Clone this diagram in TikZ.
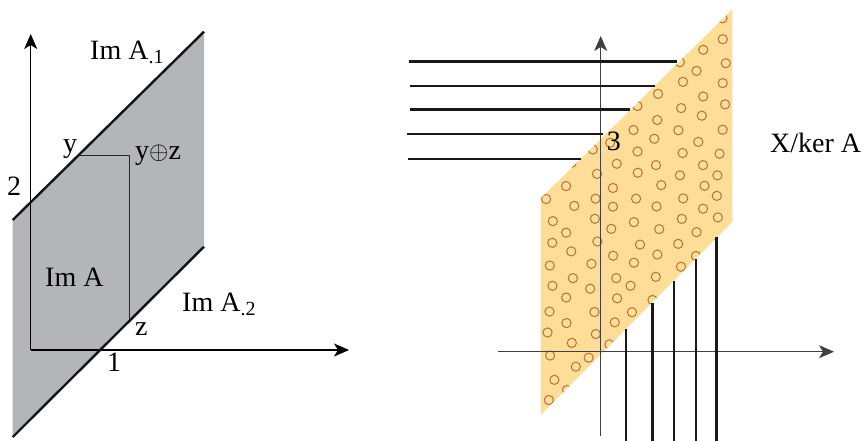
\documentclass[tikz,border=0pt]{standalone}
\usepackage{fontspec}
\setmainfont{Liberation Serif}
\usetikzlibrary{arrows.meta}
\definecolor{panelgray}{RGB}{179,181,185}
\definecolor{kerfill}{RGB}{254,221,152}
\definecolor{dotcol}{RGB}{182,115,58}
\newcommand{\subsm}[1]{\raisebox{-4pt}{\fontsize{20}{20}\selectfont #1}}
\begin{document}
\begin{tikzpicture}[x=1pt,y=-1pt,
  lbl/.style={anchor=base west, inner sep=0pt, font=\rmfamily\fontsize{28}{28}\selectfont},
  thickline/.style={line width=2.4pt, black!92},
  thickline2/.style={line width=2.8pt, black!90},
  axisone/.style={line width=1.1pt, black, -{Stealth[length=15pt,width=13pt,inset=4pt]}},
  axistwo/.style={line width=1.1pt, black!75, -{Stealth[length=15pt,width=13pt,inset=4pt]}},
  rectline/.style={line width=1.2pt, black!85},
  dot/.style={draw=dotcol, line width=1pt}]
\useasboundingbox (0,0) rectangle (864,441);

% ---------- left panel ----------
\coordinate (gTL) at (12.7,220);
\coordinate (gTR) at (204,31.7);
\coordinate (gBR) at (204,246.7);
\coordinate (gBL) at (12.7,435);
\fill[panelgray] (gTL) -- (gTR) -- (gBR) -- (gBL) -- cycle;

\coordinate (O1) at (30.7,350);
\coordinate (yTop1) at (30.7,34);
\coordinate (xEnd1) at (349,350);
\draw[axisone] (O1) -- (yTop1);
\draw[axisone] (O1) -- (xEnd1);

\coordinate (ypt) at (78.8,155.5);
\coordinate (yzpt) at (129.3,155.5);
\coordinate (zpt) at (129.3,320.3);
\draw[rectline] (ypt) -- (yzpt) -- (zpt);

\coordinate (gBLx) at (12.7,437);
\draw[thickline] (gTL) -- (gTR);
\draw[thickline] (gBR) -- (gBLx);

\node[lbl] (lIm1) at (90,60) {Im A\subsm{.1}};
\node[lbl] (ly) at (63,152) {y};
\node[lbl] (lyz) at (135,159) {y$\oplus$z};
\node[lbl] (l2) at (7,195) {2};
\node[lbl] (lImA) at (45,286) {Im A};
\node[lbl] (lIm2) at (182,311.7) {Im A\subsm{.2}};
\node[lbl] (lz) at (135,335) {z};
\node[lbl] (l1) at (107,371.7) {1};

% ---------- right panel ----------
\coordinate (oTL) at (540.7,198.3);
\coordinate (oTR) at (732.3,9.3);
\coordinate (oBR) at (732.3,221.7);
\coordinate (oBL) at (540.7,415);
\fill[kerfill] (oTL) -- (oTR) -- (oBR) -- (oBL) -- cycle;
\begin{scope}
  \clip (oTL) -- (oTR) -- (oBR) -- (oBL) -- cycle;
  \pgfmathsetseed{11}
  \foreach \r in {0,...,37} {
    \foreach \c in {0,...,5} {
      \pgfmathsetmacro{\px}{528+\c*43+mod(\r,2)*21.5+5*rand}
      \pgfmathsetmacro{\py}{5+\r*11.3+2.5*rand}
      \draw[dot] (\px,\py) circle (4.6);
    }
  }
\end{scope}

\coordinate (yBot2) at (600.7,436);
\coordinate (yTop2) at (600.7,36);
\coordinate (xLeft2) at (498.3,351.7);
\coordinate (xEnd2) at (834,351.7);
\draw[axistwo] (yBot2) -- (yTop2);
\draw[axistwo] (xLeft2) -- (xEnd2);

% horizontal lines
\coordinate (h1a) at (409,61.7);  \coordinate (h1b) at (677,61.7);
\coordinate (h2a) at (410,86);    \coordinate (h2b) at (654.5,86);
\coordinate (h3a) at (410,109.3); \coordinate (h3b) at (629.5,109.3);
\coordinate (h4a) at (407.3,134); \coordinate (h4b) at (603,134);
\coordinate (h5a) at (408,159);   \coordinate (h5b) at (580.7,159);
\draw[thickline2] (h1a) -- (h1b);
\draw[thickline2] (h2a) -- (h2b);
\draw[thickline2] (h3a) -- (h3b);
\draw[thickline2] (h4a) -- (h4b);
\draw[thickline2] (h5a) -- (h5b);

% vertical lines
\coordinate (v1a) at (626,329);   \coordinate (v1b) at (626,441);
\coordinate (v2a) at (652.3,303); \coordinate (v2b) at (652.3,441);
\coordinate (v3a) at (674,281);   \coordinate (v3b) at (674,441);
\coordinate (v4a) at (696,259);   \coordinate (v4b) at (696,441);
\coordinate (v5a) at (716.7,237); \coordinate (v5b) at (716.7,441);
\draw[thickline2] (v1a) -- (v1b);
\draw[thickline2] (v2a) -- (v2b);
\draw[thickline2] (v3a) -- (v3b);
\draw[thickline2] (v4a) -- (v4b);
\draw[thickline2] (v5a) -- (v5b);

\node[lbl] (l3) at (606.7,150) {3};
\node[lbl] (lker) at (770,152.7) {X/ker A};
\end{tikzpicture}
\end{document}
